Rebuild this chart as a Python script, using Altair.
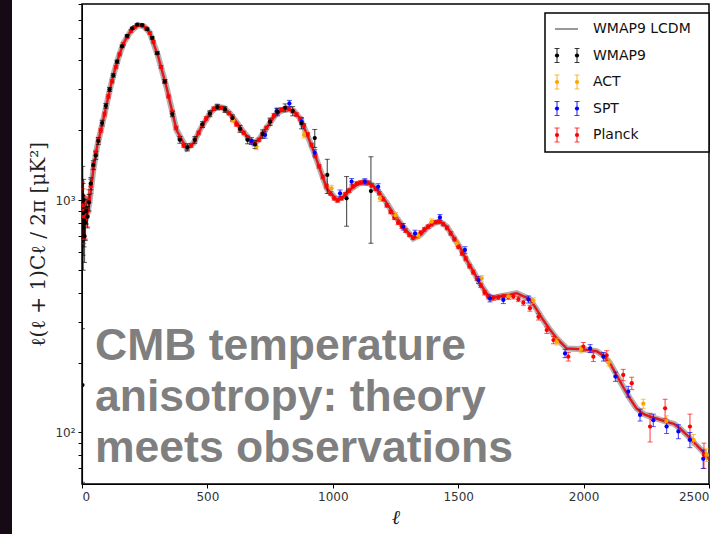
import altair as alt
import pandas as pd

# ---------------- data ----------------
# Theory curve (WMAP9 LCDM)
ell_th = [2, 5, 10, 15, 20, 30, 45, 60, 75, 90, 105, 125, 145, 165, 195, 225, 250, 271,
          304, 338, 377, 417, 445, 470, 510, 537, 565, 590, 615, 643, 683, 705, 730, 776,
          816, 845, 869, 895, 922, 950, 976, 1016, 1045, 1069, 1100, 1128, 1160, 1188,
          1215, 1241, 1281, 1321, 1350, 1374, 1400, 1427, 1455, 1480, 1510, 1534, 1560,
          1587, 1627, 1680, 1733, 1786, 1812, 1839, 1865, 1893, 1933, 1999, 2052, 2080,
          2105, 2130, 2158, 2185, 2211, 2240, 2265, 2300, 2331, 2360, 2385, 2410, 2438,
          2470, 2500]
dl_th = [1050, 920, 850, 830, 860, 980, 1350, 1700, 2000, 2350, 2800, 3461, 4100, 4742,
         5350, 5685, 5580, 5250, 4150, 3034, 2006, 1674, 1760, 2006, 2367, 2528, 2500,
         2367, 2180, 1972, 1758, 1820, 2006, 2367, 2488, 2420, 2253, 1950, 1645, 1350,
         1125, 1005, 1040, 1110, 1175, 1202, 1160, 1071, 975, 879, 769, 685, 710, 757,
         795, 809, 770, 697, 620, 552, 495, 438, 378, 388, 398, 375, 340, 305, 278, 254,
         230, 228, 224, 214, 199, 178, 157, 140, 127, 120, 117, 114, 111, 109, 104, 98,
         91, 84, 77]

# WMAP9
ell_w = [2, 3, 4, 5, 6, 8, 10, 13, 17, 22, 28, 35, 45, 55, 65, 80, 95, 110, 125, 140,
         160, 180, 200, 220, 240, 260, 280, 300, 330, 360, 390, 420, 450, 480, 510, 540,
         570, 600, 630, 660, 690, 720, 750, 780, 810, 840, 875, 928, 978, 1055, 1152]
dl_w = [160, 1050, 880, 760, 1000, 820, 700, 800, 900, 850, 980, 1180, 1420, 1560, 1800,
        2150, 2550, 3000, 3450, 3950, 4600, 5100, 5500, 5700, 5680, 5450, 5000, 4300,
        3250, 2350, 1820, 1690, 1820, 2120, 2360, 2520, 2460, 2260, 2030, 1820, 1740,
        1930, 2180, 2400, 2500, 2420, 2150, 1853, 1285, 1019, 1096]
err_w = [120, 350, 300, 260, 230, 190, 160, 130, 110, 90, 80, 70, 60, 60, 60, 60, 60, 60,
         60, 60, 60, 60, 60, 60, 60, 60, 60, 60, 60, 60, 60, 60, 60, 60, 70, 70, 70, 70,
         70, 70, 70, 80, 80, 90, 100, 110, 120, 165, 216, 246, 443]

# ACT
ell_a = [603, 696, 885, 995, 1188, 1250, 1340, 1394, 1494, 1594, 1700, 1800, 1893, 1990,
         2100, 2238, 2330, 2438, 2490]
dl_a = [2213, 1702, 1910, 1125, 1019, 860, 705, 809, 652, 461, 386, 370, 246, 228, 200,
        133, 112, 93, 80]
err_a = [60, 50, 55, 35, 30, 25, 20, 22, 18, 13, 11, 10, 8, 8, 7, 6, 6, 5, 5]

# SPT
ell_s = [676, 730, 776, 827, 876, 928, 1029, 1075, 1128, 1181, 1281, 1328, 1427, 1527,
         1581, 1627, 1680, 1780, 1926, 2026, 2079, 2127, 2178, 2225, 2278, 2331, 2378,
         2424, 2477]
dl_s = [1800, 1910, 2420, 2612, 2180, 1600, 1071, 1202, 1200, 1143, 769, 720, 843, 611,
        453, 378, 372, 374, 219, 230, 212, 174, 150, 119, 113, 106, 101, 93, 77]
err_s = [60, 60, 70, 80, 65, 50, 35, 38, 38, 35, 25, 23, 25, 20, 15, 13, 13, 13, 9, 9, 9,
         8, 8, 7, 7, 7, 7, 7, 7]

# Planck
ell_p = [2, 4, 7, 10, 14, 20, 27, 35, 45, 55, 65, 75, 90, 105, 120, 135, 150, 165, 180,
         195, 210, 225, 240, 255, 270, 285, 300, 315, 330, 345, 360, 375, 390, 405, 420,
         435, 450, 465, 480, 495, 510, 525, 540, 555, 570, 585, 600, 615, 630, 645, 660,
         675, 690, 705, 720, 735, 750, 765, 780, 795, 810, 825, 840, 855, 870, 885, 900,
         915, 930, 945, 960, 975, 990, 1005, 1020, 1035, 1050, 1065, 1080, 1095, 1110,
         1125, 1140, 1155, 1170, 1185, 1200, 1215, 1230, 1245, 1260, 1275, 1290, 1305,
         1320, 1335, 1350, 1365, 1380, 1395, 1410, 1425, 1440, 1455, 1470, 1485, 1500,
         1515, 1530, 1545, 1560, 1575, 1590, 1605, 1620, 1640, 1660, 1680, 1700, 1720,
         1740, 1760, 1786, 1820, 1853, 1880, 1939, 1999, 2039, 2092, 2158, 2192, 2265,
         2325, 2424, 2480]
dl_p = [950, 900, 850, 860, 830, 900, 1000, 1150, 1400, 1600, 1820, 2000, 2350, 2800,
        3250, 3750, 4250, 4700, 5050, 5350, 5580, 5680, 5650, 5500, 5250, 4800, 4300,
        3750, 3250, 2800, 2400, 2050, 1850, 1720, 1680, 1720, 1820, 1950, 2100, 2250,
        2370, 2480, 2520, 2500, 2450, 2370, 2250, 2120, 2020, 1950, 1850, 1780, 1760,
        1820, 1930, 2050, 2200, 2320, 2400, 2460, 2490, 2470, 2420, 2340, 2240, 2100,
        1920, 1730, 1550, 1400, 1260, 1150, 1070, 1020, 1000, 1020, 1060, 1100, 1150,
        1180, 1190, 1200, 1190, 1160, 1120, 1070, 1010, 950, 890, 840, 800, 770, 740, 710,
        690, 700, 725, 750, 770, 790, 805, 810, 790, 760, 720, 680, 630, 590, 560, 520,
        490, 460, 430, 400, 385, 380, 382, 385, 383, 385, 375, 362, 343, 315, 276, 250,
        212, 234, 212, 215, 177, 163, 106, 127, 106, 80]
err_p = [250, 220, 200, 180, 150, 130, 110, 80, 50, 40, 40, 40, 45, 50, 55, 60, 65, 70,
         70, 75, 75, 75, 75, 75, 70, 65, 60, 55, 50, 45, 40, 35, 33, 32, 32, 32, 33, 35,
         38, 40, 42, 44, 45, 45, 44, 42, 40, 38, 36, 35, 33, 32, 32, 33, 35, 37, 40, 42,
         43, 44, 45, 45, 44, 42, 40, 38, 35, 32, 28, 26, 24, 22, 20, 19, 19, 19, 20, 20,
         21, 22, 22, 22, 22, 21, 20, 19, 18, 17, 16, 15, 15, 14, 14, 13, 13, 13, 14, 14,
         14, 15, 15, 15, 15, 14, 13, 13, 12, 11, 11, 10, 10, 9, 9, 9, 9, 9, 9, 9, 9, 9, 9,
         9, 10, 10, 9, 9, 9, 10, 10, 10, 10, 10, 15, 12, 14, 10]

exp_names = ["Planck", "ACT", "SPT", "WMAP9"]
exp_colors = ["#ff0000", "#ffa500", "#0000ff", "#000000"]

legend_labels = ["WMAP9 LCDM", "WMAP9", "ACT", "SPT", "Planck"]
legend_colors = ["#999999", "#000000", "#ffa500", "#0000ff", "#ff0000"]

overlay_lines = ["CMB temperature", "anisotropy: theory", "meets observations"]

x_ticks = [0, 500, 1000, 1500, 2000, 2500]
y_ticks = [70, 80, 90, 100, 200, 300, 400, 500, 600, 700, 800, 900,
           1000, 2000, 3000, 4000, 5000, 6000, 7000]

# ---------------- tables ----------------
theory = pd.DataFrame({"ell": ell_th, "dl": dl_th})


def obs(name, ells, dls, errs):
    return pd.DataFrame({
        "ell": ells, "dl": dls,
        "lo": [max(d - e, 61) for d, e in zip(dls, errs)],
        "hi": [d + e for d, e in zip(dls, errs)],
        "exp": name,
    })


data = pd.concat([
    obs("Planck", ell_p, dl_p, err_p),
    obs("ACT", ell_a, dl_a, err_a),
    obs("SPT", ell_s, dl_s, err_s),
    obs("WMAP9", ell_w, dl_w, err_w),
], ignore_index=True)

W, H = 627, 480

xscale = alt.Scale(domain=[0, 2500], nice=False, zero=False)
yscale = alt.Scale(type="log", domain=[60, 7000], nice=False)
cscale = alt.Scale(domain=exp_names, range=exp_colors)

X = alt.X("ell:Q", scale=xscale,
          axis=alt.Axis(values=x_ticks, format="d", title="ℓ", grid=False, tickSize=4,
                        labelPadding=3, labelFont="DejaVu Sans", labelFontSize=12,
                        labelColor="#333333", titleFont="DejaVu Serif",
                        titleFontStyle="italic", titleFontWeight="normal",
                        titleFontSize=20, titlePadding=5, titleColor="#222222",
                        domainColor="#000000", tickColor="#000000"))
Y = alt.Y("dl:Q", scale=yscale,
          axis=alt.Axis(values=y_ticks, grid=False, tickSize=4, labelPadding=3,
                        labelExpr="datum.value == 1000 ? '10³' : (datum.value == 100 ? '10²' : '')",
                        labelFont="DejaVu Sans", labelFontSize=12, labelColor="#333333",
                        title="ℓ(ℓ + 1)Cℓ / 2π  [μK²]", titleFont="DejaVu Serif",
                        titleFontWeight="normal", titleFontSize=20, titlePadding=6,
                        titleColor="#222222", domainColor="#000000", tickColor="#000000"))

one = pd.DataFrame({"a": [0]})

strip = alt.Chart(one).mark_rect(color="#150a16").encode(
    x=alt.value(-82), x2=alt.value(-70), y=alt.value(-4), y2=alt.value(H + 50))

th_gray = alt.Chart(theory).mark_line(color="#a5a5a5", strokeWidth=6, opacity=0.85,
                                      clip=True).encode(x=X, y=Y)
th_red = alt.Chart(theory).mark_line(color="#e8141c", strokeWidth=2.4,
                                     clip=True).encode(x="ell:Q", y="dl:Q")

color = alt.Color("exp:N", scale=cscale, legend=None)

bars = alt.Chart(data).mark_rule(strokeWidth=1.2, opacity=0.65, clip=True).encode(
    x="ell:Q", y="lo:Q", y2="hi:Q", color=color)
cap_lo = alt.Chart(data).mark_tick(orient="horizontal", size=5, thickness=1, opacity=0.65,
                                   clip=True).encode(x="ell:Q", y="lo:Q", color=color)
cap_hi = alt.Chart(data).mark_tick(orient="horizontal", size=5, thickness=1, opacity=0.65,
                                   clip=True).encode(x="ell:Q", y="hi:Q", color=color)
pts = alt.Chart(data).mark_circle(size=18, opacity=1, clip=True).encode(
    x="ell:Q", y="dl:Q", color=color)

layers = [strip, th_gray, th_red, bars, cap_lo, cap_hi, pts]

# overlay caption
for i, line in enumerate(overlay_lines):
    layers.append(
        alt.Chart(pd.DataFrame({"t": [line]})).mark_text(
            align="left", baseline="alphabetic", font="Liberation Sans",
            fontWeight="bold", fontSize=44.5, color="#7f7f7f"
        ).encode(x=alt.value(13), y=alt.value(356 + 51 * i), text="t:N"))

# legend box
layers.append(alt.Chart(one).mark_rect(fill="white", stroke="#000000", strokeWidth=1.5).encode(
    x=alt.value(463), x2=alt.value(627), y=alt.value(9), y2=alt.value(148)))

for i, (lab, col) in enumerate(zip(legend_labels, legend_colors)):
    yy = 25 + 26.5 * i
    layers.append(alt.Chart(pd.DataFrame({"t": [lab]})).mark_text(
        align="left", baseline="middle", font="DejaVu Sans", fontSize=14, color="#111111"
    ).encode(x=alt.value(511), y=alt.value(yy), text="t:N"))
    if i == 0:
        layers.append(alt.Chart(one).mark_rule(color=col, strokeWidth=2).encode(
            x=alt.value(473), x2=alt.value(496), y=alt.value(yy)))
    else:
        for xx in (475, 495):
            layers.append(alt.Chart(one).mark_rule(color=col, strokeWidth=1.2, opacity=0.75).encode(
                x=alt.value(xx), y=alt.value(yy - 7), y2=alt.value(yy + 7)))
            for cy in (yy - 7, yy + 7):
                layers.append(alt.Chart(one).mark_rule(color=col, strokeWidth=1, opacity=0.75).encode(
                    x=alt.value(xx - 2.5), x2=alt.value(xx + 2.5), y=alt.value(cy)))
            layers.append(alt.Chart(one).mark_circle(color=col, size=18, opacity=1).encode(
                x=alt.value(xx), y=alt.value(yy)))

chart = alt.layer(*layers).properties(
    width=W, height=H,
    autosize=alt.AutoSizeParams(type="none"),
    padding={"left": 82, "top": 4, "right": 13, "bottom": 50},
    background="white",
).configure_view(stroke="#000000", strokeWidth=1.5)

chart.save("out.html", embed_options={"renderer": "svg", "actions": False})
